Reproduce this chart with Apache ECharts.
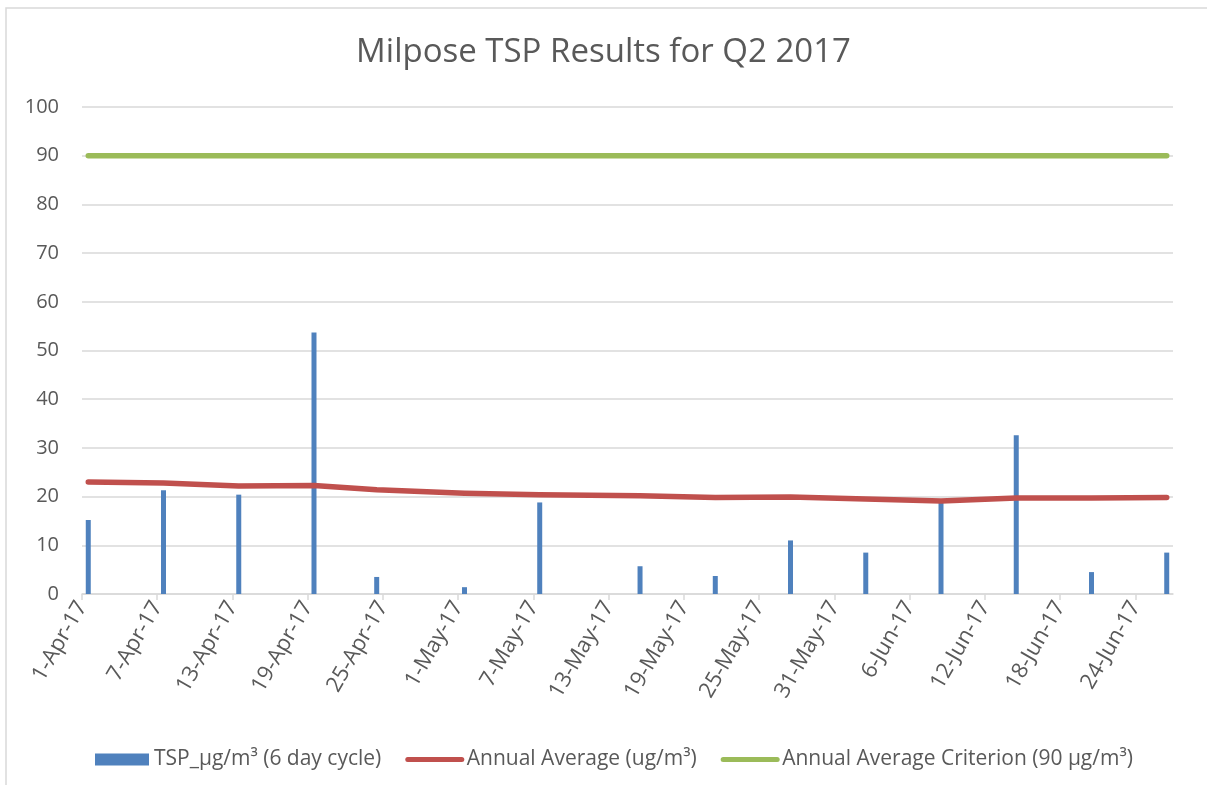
<!DOCTYPE html>
<html>
<head>
<meta charset="utf-8">
<title>Milpose TSP Results for Q2 2017</title>
<script src="https://cdn.jsdelivr.net/npm/echarts@6/dist/echarts.min.js"></script>
<style>
  html, body { margin: 0; padding: 0; background: #fff; }
  #chart { width: 1207px; height: 785px; }
</style>
</head>
<body>
<div id="chart"></div>
<script>
// sample dates (6 day cycle) and values
const sampleDates = ['2017-04-01', '2017-04-07', '2017-04-13', '2017-04-19', '2017-04-24',
  '2017-05-01', '2017-05-07', '2017-05-15', '2017-05-21', '2017-05-27',
  '2017-06-02', '2017-06-08', '2017-06-14', '2017-06-20', '2017-06-26'];
const tspValues = [15.2, 21.3, 20.4, 53.7, 3.5, 1.4, 18.8, 5.7, 3.7, 11.0, 8.5, 18.7, 32.6, 4.5, 8.5];
const annualAverage = [23.0, 22.8, 22.2, 22.3, 21.4, 20.7, 20.4, 20.2, 19.8, 19.9, 19.5, 19.1, 19.7, 19.7, 19.8];
const criterion = 90;

// x axis runs in days from 1-Apr-17, ticks every 6 days
const axisStart = new Date(2017, 3, 1);
const axisDays = 87;
const tickDays = [0, 6, 12, 18, 24, 30, 36, 42, 48, 54, 60, 66, 72, 78, 84];
const monthNames = ['Jan', 'Feb', 'Mar', 'Apr', 'May', 'Jun', 'Jul', 'Aug', 'Sep', 'Oct', 'Nov', 'Dec'];

const dayMs = 24 * 3600 * 1000;
function dayOffset(s) {
  const p = s.split('-');
  const d = new Date(+p[0], +p[1] - 1, +p[2]);
  return Math.round((d - axisStart) / dayMs);
}
function dayLabel(v) {
  const d = new Date(2017, 3, 1 + v);
  return d.getDate() + '-' + monthNames[d.getMonth()] + '-' + String(d.getFullYear()).slice(2);
}

// columns sit in the middle of their day, like Excel's date axis
const xs = sampleDates.map(s => dayOffset(s) + 0.5);

const textColor = '#595959';
const gridColor = '#D9D9D9';
const font = 'Open Sans';

const chart = echarts.init(document.getElementById('chart'));
chart.setOption({
  animation: false,
  backgroundColor: '#fff',
  title: {
    text: 'Milpose TSP Results for Q2 2017',
    left: 'center',
    top: 31,
    textStyle: { fontFamily: font, fontSize: 33, fontWeight: 'normal', color: textColor }
  },
  graphic: [{
    type: 'rect',
    shape: { x: 6, y: 8, width: 1240, height: 820 },
    style: { fill: null, stroke: gridColor, lineWidth: 1.5 },
    silent: true
  }],
  legend: {
    top: 744,
    left: 90,
    itemGap: 24,
    itemWidth: 54,
    itemHeight: 12,
    textStyle: { fontFamily: font, fontSize: 21, color: textColor },
    lineStyle: { width: 5, cap: 'round' },
    data: [
      { name: 'TSP_µg/m³ (6 day cycle)', icon: 'rect' },
      { name: 'Annual Average (ug/m³)', itemStyle: { opacity: 0 } },
      { name: 'Annual Average Criterion (90 µg/m³)', itemStyle: { opacity: 0 } }
    ]
  },
  grid: { left: 82, right: 34, top: 107, bottom: 191 },
  xAxis: {
    type: 'value',
    min: 0,
    max: axisDays,
    splitLine: { show: false },
    axisLine: { show: true, lineStyle: { color: gridColor, width: 1.5 } },
    axisTick: { show: true, customValues: tickDays, length: 6, lineStyle: { color: gridColor, width: 1.5 } },
    axisLabel: {
      customValues: tickDays,
      rotate: 60,
      margin: 9,
      padding: [10, 0, 0, 0],
      formatter: dayLabel,
      fontFamily: font,
      fontSize: 22,
      color: textColor
    }
  },
  yAxis: {
    type: 'value',
    min: 0,
    max: 100,
    interval: 10,
    axisLine: { show: false },
    axisTick: { show: false },
    axisLabel: { margin: 23, fontFamily: font, fontSize: 20, color: textColor },
    splitLine: { lineStyle: { color: gridColor, width: 1.5 } }
  },
  series: [
    {
      name: 'TSP_µg/m³ (6 day cycle)',
      type: 'bar',
      barWidth: 5,
      itemStyle: { color: '#4F81BD' },
      data: xs.map((x, i) => [x, tspValues[i]])
    },
    {
      name: 'Annual Average (ug/m³)',
      type: 'line',
      symbol: 'none',
      itemStyle: { color: '#C0504D' },
      lineStyle: { color: '#C0504D', width: 5.5, cap: 'round', join: 'round' },
      data: xs.map((x, i) => [x, annualAverage[i]])
    },
    {
      name: 'Annual Average Criterion (90 µg/m³)',
      type: 'line',
      symbol: 'none',
      itemStyle: { color: '#9BBB59' },
      lineStyle: { color: '#9BBB59', width: 5.5, cap: 'round', join: 'round' },
      data: xs.map(x => [x, criterion])
    }
  ]
});
</script>
</body>
</html>
